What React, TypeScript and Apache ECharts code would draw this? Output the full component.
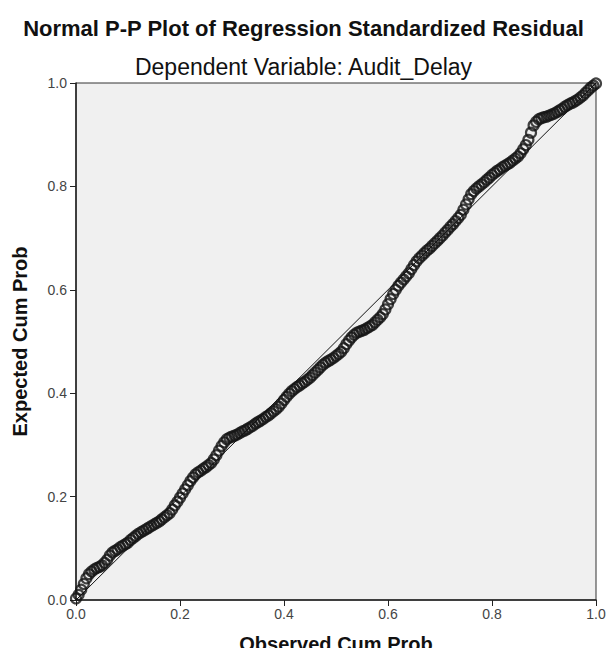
import React, { useEffect, useRef } from "react";
import * as echarts from "echarts";

const titleText = "Normal P-P Plot of Regression Standardized Residual";
const subtitleText = "Dependent Variable: Audit_Delay";
const xAxisName = "Observed Cum Prob";
const yAxisName = "Expected Cum Prob";
const tickLabels = ["0.0", "0.2", "0.4", "0.6", "0.8", "1.0"];

const observed = [
  0.000, 0.005, 0.010, 0.015, 0.020, 0.025, 0.030, 0.035, 0.040, 0.045,
  0.050, 0.055, 0.060, 0.065, 0.070, 0.075, 0.080, 0.085, 0.090, 0.095,
  0.100, 0.105, 0.110, 0.115, 0.120, 0.125, 0.130, 0.135, 0.140, 0.145,
  0.150, 0.155, 0.160, 0.165, 0.170, 0.175, 0.180, 0.185, 0.190, 0.195,
  0.200, 0.205, 0.210, 0.215, 0.220, 0.225, 0.230, 0.235, 0.240, 0.245,
  0.250, 0.255, 0.260, 0.265, 0.270, 0.275, 0.280, 0.285, 0.290, 0.295,
  0.300, 0.305, 0.310, 0.315, 0.320, 0.325, 0.330, 0.335, 0.340, 0.345,
  0.350, 0.355, 0.360, 0.365, 0.370, 0.375, 0.380, 0.385, 0.390, 0.395,
  0.400, 0.405, 0.410, 0.415, 0.420, 0.425, 0.430, 0.435, 0.440, 0.445,
  0.450, 0.455, 0.460, 0.465, 0.470, 0.475, 0.480, 0.485, 0.490, 0.495,
  0.500, 0.505, 0.510, 0.515, 0.520, 0.525, 0.530, 0.535, 0.540, 0.545,
  0.550, 0.555, 0.560, 0.565, 0.570, 0.575, 0.580, 0.585, 0.590, 0.595,
  0.600, 0.605, 0.610, 0.615, 0.620, 0.625, 0.630, 0.635, 0.640, 0.645,
  0.650, 0.655, 0.660, 0.665, 0.670, 0.675, 0.680, 0.685, 0.690, 0.695,
  0.700, 0.705, 0.710, 0.715, 0.720, 0.725, 0.730, 0.735, 0.740, 0.745,
  0.750, 0.755, 0.760, 0.765, 0.770, 0.775, 0.780, 0.785, 0.790, 0.795,
  0.800, 0.805, 0.810, 0.815, 0.820, 0.825, 0.830, 0.835, 0.840, 0.845,
  0.850, 0.855, 0.860, 0.865, 0.870, 0.875, 0.880, 0.885, 0.890, 0.895,
  0.900, 0.905, 0.910, 0.915, 0.920, 0.925, 0.930, 0.935, 0.940, 0.945,
  0.950, 0.955, 0.960, 0.965, 0.970, 0.975, 0.980, 0.985, 0.990, 0.995,
  1.000,
];

const expected = [
  0.003, 0.010, 0.020, 0.031, 0.042, 0.050, 0.055, 0.059, 0.062, 0.064,
  0.067, 0.072, 0.078, 0.086, 0.092, 0.095, 0.098, 0.102, 0.105, 0.108,
  0.111, 0.116, 0.120, 0.124, 0.128, 0.131, 0.134, 0.137, 0.140, 0.143,
  0.146, 0.149, 0.152, 0.156, 0.160, 0.164, 0.168, 0.175, 0.183, 0.190,
  0.198, 0.206, 0.214, 0.222, 0.230, 0.237, 0.243, 0.247, 0.250, 0.254,
  0.257, 0.261, 0.265, 0.272, 0.280, 0.289, 0.298, 0.305, 0.311, 0.314,
  0.316, 0.318, 0.320, 0.323, 0.326, 0.328, 0.331, 0.334, 0.337, 0.341,
  0.344, 0.347, 0.350, 0.354, 0.357, 0.361, 0.365, 0.369, 0.374, 0.380,
  0.387, 0.393, 0.399, 0.404, 0.408, 0.412, 0.415, 0.419, 0.422, 0.426,
  0.430, 0.435, 0.440, 0.445, 0.450, 0.455, 0.459, 0.462, 0.465, 0.468,
  0.472, 0.476, 0.480, 0.487, 0.495, 0.502, 0.508, 0.513, 0.517, 0.519,
  0.521, 0.523, 0.526, 0.529, 0.532, 0.537, 0.542, 0.547, 0.553, 0.562,
  0.572, 0.582, 0.592, 0.600, 0.608, 0.614, 0.620, 0.626, 0.632, 0.640,
  0.648, 0.655, 0.661, 0.666, 0.671, 0.676, 0.680, 0.685, 0.690, 0.695,
  0.700, 0.705, 0.711, 0.716, 0.722, 0.727, 0.733, 0.739, 0.745, 0.755,
  0.765, 0.775, 0.785, 0.791, 0.796, 0.800, 0.804, 0.808, 0.813, 0.817,
  0.822, 0.826, 0.830, 0.833, 0.837, 0.840, 0.843, 0.846, 0.850, 0.854,
  0.858, 0.864, 0.872, 0.880, 0.890, 0.904, 0.918, 0.925, 0.930, 0.932,
  0.934, 0.935, 0.937, 0.939, 0.941, 0.944, 0.947, 0.950, 0.954, 0.957,
  0.960, 0.962, 0.965, 0.968, 0.972, 0.976, 0.981, 0.986, 0.991, 0.995,
  0.999,
];

const diagonal = [
  [0, 0],
  [1, 1],
];

export default function App() {
  const ref = useRef<HTMLDivElement>(null);
  useEffect(() => {
    if (!ref.current) return;
    const chart = echarts.init(ref.current, null, { renderer: "svg" });
    const points = observed.map((x, i) => [x, expected[i]]);
    const fmt = (v: number) => tickLabels[Math.round(v * 5)] ?? v.toFixed(1);
    chart.setOption({
      animation: false,
      backgroundColor: "#ffffff",
      textStyle: { fontFamily: "Liberation Sans, Arial, sans-serif" },
      title: [
        {
          text: titleText,
          left: "center",
          top: 12,
          textStyle: { fontSize: 22, fontWeight: "bold", color: "#111" },
        },
        {
          text: subtitleText,
          left: "center",
          top: 50,
          textStyle: { fontSize: 23, fontWeight: "normal", color: "#111" },
        },
      ],
      grid: {
        left: 76,
        right: 11,
        top: 83,
        bottom: 48,
        show: true,
        backgroundColor: "#f0f0f0",
        borderColor: "#333",
        borderWidth: 1,
        outerBoundsMode: "none",
        containLabel: false,
      },
      xAxis: {
        type: "value",
        min: 0,
        max: 1,
        interval: 0.2,
        name: xAxisName,
        nameLocation: "middle",
        nameGap: 34,
        nameTextStyle: { fontSize: 20, fontWeight: "bold", color: "#111" },
        axisLine: { show: true, lineStyle: { color: "#222", width: 1.5 } },
        axisTick: { show: true, length: 6, lineStyle: { color: "#222" } },
        axisLabel: { formatter: fmt, fontSize: 14, color: "#444", margin: 7 },
        splitLine: { show: false },
      },
      yAxis: {
        type: "value",
        min: 0,
        max: 1,
        interval: 0.2,
        name: yAxisName,
        nameLocation: "middle",
        nameGap: 46,
        nameTextStyle: { fontSize: 20, fontWeight: "bold", color: "#111" },
        axisLine: { show: true, lineStyle: { color: "#222", width: 1.5 } },
        axisTick: { show: true, length: 6, lineStyle: { color: "#222" } },
        axisLabel: { formatter: fmt, fontSize: 14, color: "#444", margin: 9 },
        splitLine: { show: false },
      },
      series: [
        {
          type: "scatter",
          data: points,
          symbol: "circle",
          symbolSize: 10,
          itemStyle: {
            color: "rgba(0,0,0,0)",
            borderColor: "#151515",
            borderWidth: 2.2,
          },
          z: 2,
        },
        {
          type: "line",
          data: diagonal,
          symbol: "none",
          lineStyle: { color: "#111", width: 1 },
          z: 3,
        },
      ],
    });
    return () => chart.dispose();
  }, []);
  return (
    <div
      ref={ref}
      style={{ position: "fixed", left: 0, top: 0, width: 607, height: 648 }}
    />
  );
}
